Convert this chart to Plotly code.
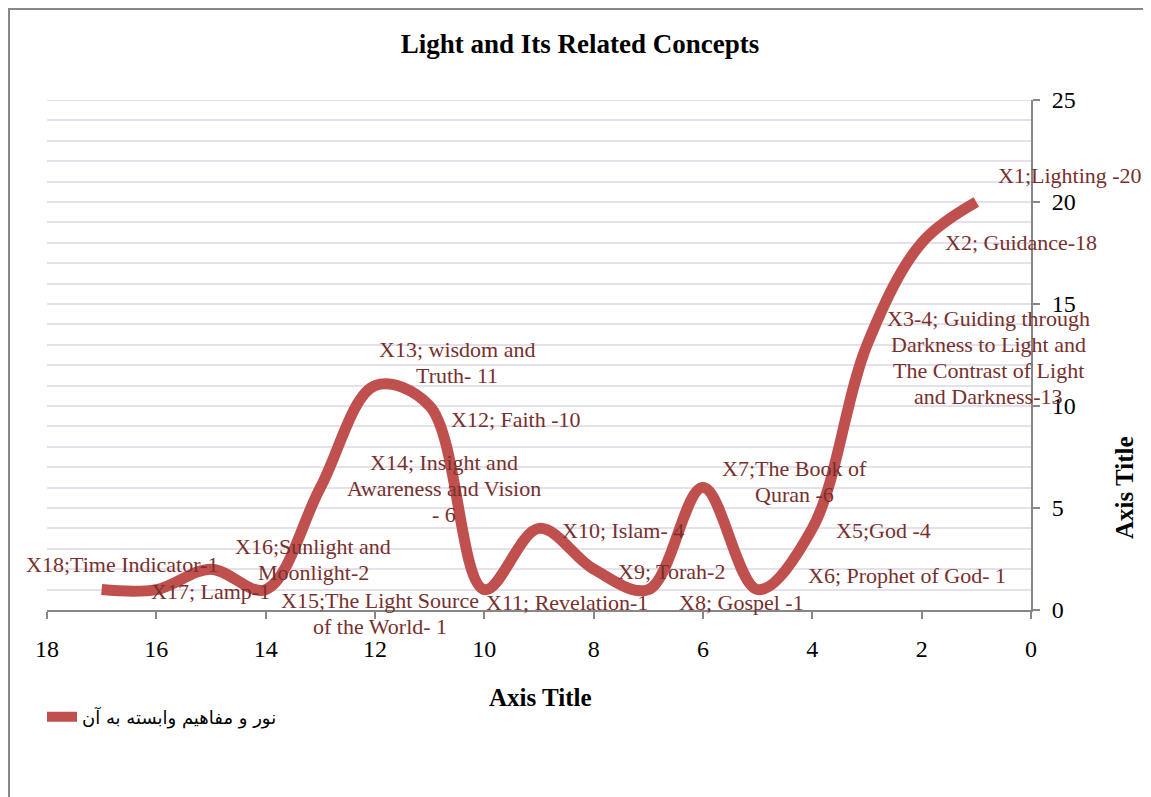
import plotly.graph_objects as go

# ---- data ----
x_vals = [1, 2, 3, 4, 5, 6, 7, 8, 9, 10, 11, 12, 13, 14, 15, 16, 17]
y_vals = [20, 18, 13, 4, 1, 6, 1, 2, 4, 1, 10, 11, 6, 1, 2, 1, 1]
labels = [
    "X1;Lighting -20",
    "X2; Guidance-18",
    "X3-4; Guiding through<br>Darkness to Light and<br>The Contrast of Light<br>and Darkness-13",
    "X5;God -4",
    "X6; Prophet of God- 1",
    "X7;The Book of<br>Quran -6",
    "X8; Gospel -1",
    "X9; Torah-2",
    "X10; Islam- 4",
    "X11; Revelation-1",
    "X12; Faith -10",
    "X13; wisdom and<br>Truth- 11",
    "X14; Insight and<br>Awareness and Vision<br>- 6",
    "X15;The Light Source<br>of the World- 1",
    "X16;Sunlight and<br>Moonlight-2",
    "X17; Lamp-1",
    "X18;Time Indicator-1",
]
series_name = "نور و مفاهیم وابسته به آن"
x_ticks = [0, 2, 4, 6, 8, 10, 12, 14, 16, 18]
y_ticks = [0, 5, 10, 15, 20, 25]

# label offsets in pixels (layout only)
label_shifts = [
    (94, 27), (99, 0), (121, -13), (71, -2), (149, 14), (91, 6), (93, -13),
    (78, -2), (84, -2), (83, -13), (86, -13), (82, 23), (124, -1),
    (114, -24), (102, 10), (54, -2), (20, 25),
]
LINE_GAP = 26  # px between label text lines

SERIF = "Liberation Serif, Times New Roman, serif"
LINE_COLOR = "#C0504D"
LABEL_COLOR = "#77302D"
AXIS_COLOR = "#878787"
GRID_COLOR = "#E6E0EC"

fig = go.Figure()
fig.add_trace(go.Scatter(
    x=x_vals, y=y_vals, mode="lines", name=series_name,
    line=dict(color=LINE_COLOR, width=11, shape="spline", smoothing=1.0),
    hoverinfo="x+y",
))
# invisible trace to carry the tick-label axis
fig.add_trace(go.Scatter(
    x=[x_vals[0]], y=[y_vals[0]], yaxis="y2", mode="markers",
    marker=dict(opacity=0), showlegend=False, hoverinfo="skip",
))

for xv, yv, txt, (dx, dy) in zip(x_vals, y_vals, labels, label_shifts):
    parts = txt.split("<br>")
    n = len(parts)
    for i, part in enumerate(parts):
        fig.add_annotation(
            x=xv, y=yv, text=part, showarrow=False, xshift=dx,
            yshift=dy + ((n - 1) / 2 - i) * LINE_GAP,
            font=dict(family=SERIF, size=22, color=LABEL_COLOR),
            align="center", xanchor="center", yanchor="middle",
        )

# axis titles
fig.add_annotation(
    text="<b>Axis Title</b>", xref="paper", yref="paper",
    x=(540 - 47) / 984, y=(610 - 697) / 510, showarrow=False,
    font=dict(family=SERIF, size=25, color="black"),
    xanchor="center", yanchor="middle",
)
fig.add_annotation(
    text="<b>Axis Title</b>", xref="paper", yref="paper",
    x=(1124 - 47) / 984, y=(610 - 488) / 510, showarrow=False, textangle=-90,
    font=dict(family=SERIF, size=25, color="black"),
    xanchor="center", yanchor="middle",
)

# outer frame (left and top edges)
fig.add_shape(
    type="path", xref="paper", yref="paper",
    path="M {a},{b} L {a},{c} L {d},{c}".format(
        a=(9 - 47) / 984, b=(610 - 800) / 510, c=(610 - 9) / 510, d=(1150 - 47) / 984),
    line=dict(color=AXIS_COLOR, width=2),
)
# top gridline at the upper range edge
fig.add_shape(
    type="line", xref="paper", yref="y", x0=0, x1=1, y0=y_ticks[-1], y1=y_ticks[-1],
    line=dict(color=GRID_COLOR, width=2), layer="below",
)

fig.update_layout(
    width=1143, height=789,
    margin=dict(l=39, r=120, t=92, b=187),
    paper_bgcolor="white", plot_bgcolor="white",
    title=dict(
        text="<b>Light and Its Related Concepts</b>",
        x=572 / 1143, xanchor="center", y=1 - 36 / 789, yanchor="middle",
        font=dict(family=SERIF, size=27, color="black"),
    ),
    showlegend=True,
    legend=dict(
        x=(42 - 47) / 984, y=(610 - 717) / 510, xanchor="left", yanchor="middle",
        font=dict(family="DejaVu Sans, Noto Sans, sans-serif", size=18, color="black"),
        bgcolor="rgba(0,0,0,0)",
    ),
    xaxis=dict(
        range=[18, 0], tickvals=x_ticks, ticktext=[str(t) for t in x_ticks],
        showgrid=False, zeroline=False,
        showline=True, linecolor=AXIS_COLOR, linewidth=2,
        ticks="outside", ticklen=7, tickwidth=2, tickcolor=AXIS_COLOR,
        tickfont=dict(family=SERIF, size=24, color="black"),
        ticklabelstandoff=9,
        anchor="y",
    ),
    yaxis=dict(
        range=[0, 25], side="right", tickvals=y_ticks,
        showticklabels=False,
        showgrid=True, gridcolor=GRID_COLOR, gridwidth=2,
        zeroline=False,
        showline=True, linecolor=AXIS_COLOR, linewidth=2,
        ticks="outside", ticklen=7, tickwidth=2, tickcolor=AXIS_COLOR,
        minor=dict(dtick=1, showgrid=True, gridcolor=GRID_COLOR, gridwidth=2),
    ),
    yaxis2=dict(
        range=[0, 25], side="right", overlaying="y", anchor="x",
        tickvals=y_ticks, ticktext=[str(t) for t in y_ticks],
        showgrid=False, zeroline=False, showline=False,
        ticks="outside", ticklen=15, tickwidth=1, tickcolor="rgba(0,0,0,0)",
        tickfont=dict(family=SERIF, size=24, color="black"),
    ),
)

fig.write_html("out.html")
